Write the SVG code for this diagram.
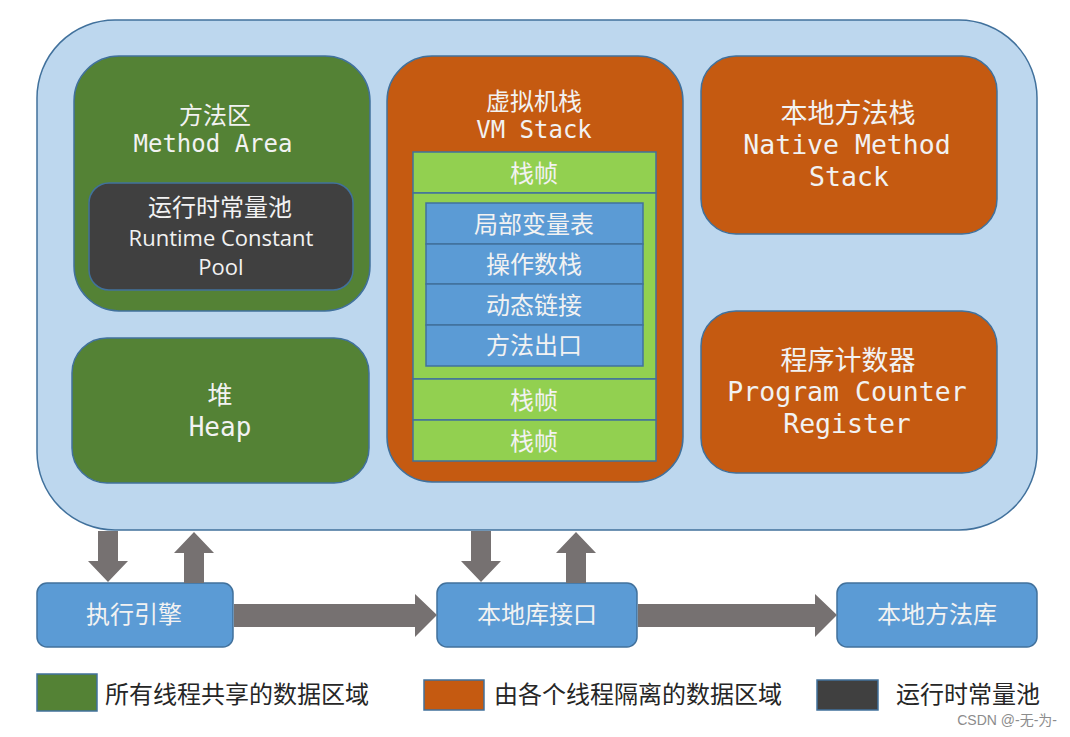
<svg xmlns="http://www.w3.org/2000/svg" width="1070" height="737" viewBox="0 0 1070 737">
<style>
.cn{font-family:"Noto Sans CJK SC","Noto Sans",sans-serif;fill:#F2F2F2;text-anchor:middle}
.mono{font-family:"DejaVu Sans Mono","Liberation Mono",monospace;fill:#F2F2F2;text-anchor:middle}
.sans{font-family:"Open Sans","Noto Sans",sans-serif;fill:#F2F2F2;text-anchor:middle}
.leg{font-family:"Noto Sans CJK SC",sans-serif;fill:#262626;font-size:24px}
.green{fill:#548235;stroke:#41719C;stroke-width:1.5}
.orange{fill:#C55A11;stroke:#41719C;stroke-width:1.5}
.dark{fill:#404040;stroke:#41719C;stroke-width:1.5}
.frame{fill:#92D050;stroke:#41719C;stroke-width:1.5}
.cell{fill:#5B9BD5;stroke:#41719C;stroke-width:1.5}
.box{fill:#5B9BD5;stroke:#41719C;stroke-width:1.5}
.arrow{fill:#767171}
</style>
<rect width="1070" height="737" fill="#FFFFFF"/>
<g id="runtime-data-area">
<rect x="37" y="20" width="1000" height="510" rx="78" ry="78" fill="#BDD7EE" stroke="#41719C" stroke-width="1.5"/>
</g>
<g id="method-area">
<rect class="green" x="74" y="56" width="296" height="255" rx="45" ry="45"/>
<text class="cn" x="215" y="124" font-size="24">方法区</text>
<text class="mono" x="213" y="152" font-size="24">Method Area</text>
</g>
<g id="runtime-constant-pool">
<rect class="dark" x="89" y="183" width="264" height="107" rx="20" ry="20"/>
<text class="cn" x="220" y="216" font-size="24">运行时常量池</text>
<text class="sans" x="221" y="246" font-size="22">Runtime Constant</text>
<text class="sans" x="221" y="275" font-size="22">Pool</text>
</g>
<g id="heap">
<rect class="green" x="72" y="338" width="297" height="145" rx="35" ry="35"/>
<text class="cn" x="220" y="404" font-size="25">堆</text>
<text class="mono" x="220" y="436" font-size="26">Heap</text>
</g>
<g id="vm-stack">
<rect class="orange" x="387" y="56" width="296" height="426" rx="45" ry="45"/>
<text class="cn" x="534" y="110" font-size="24">虚拟机栈</text>
<text class="mono" x="534" y="138" font-size="24">VM Stack</text>
<rect class="frame" x="413" y="152" width="243" height="41"/>
<text class="cn" x="534" y="182" font-size="24">栈帧</text>
<rect class="frame" x="413" y="193" width="243" height="186"/>
<rect class="cell" x="426" y="203" width="217" height="41"/>
<text class="cn" x="534" y="233" font-size="24">局部变量表</text>
<rect class="cell" x="426" y="244" width="217" height="40"/>
<text class="cn" x="534" y="273" font-size="24">操作数栈</text>
<rect class="cell" x="426" y="284" width="217" height="41"/>
<text class="cn" x="534" y="314" font-size="24">动态链接</text>
<rect class="cell" x="426" y="325" width="217" height="41"/>
<text class="cn" x="534" y="354" font-size="24">方法出口</text>
<rect class="frame" x="413" y="379" width="243" height="41"/>
<text class="cn" x="534" y="409" font-size="24">栈帧</text>
<rect class="frame" x="413" y="420" width="243" height="41"/>
<text class="cn" x="534" y="450" font-size="24">栈帧</text>
</g>
<g id="native-method-stack">
<rect class="orange" x="701" y="56" width="296" height="178" rx="35" ry="35"/>
<text class="cn" x="848" y="123" font-size="27">本地方法栈</text>
<text class="mono" x="847" y="154" font-size="26.5">Native Method</text>
<text class="mono" x="849" y="186" font-size="26.5">Stack</text>
</g>
<g id="program-counter-register">
<rect class="orange" x="701" y="311" width="296" height="162" rx="35" ry="35"/>
<text class="cn" x="848" y="370" font-size="27">程序计数器</text>
<text class="mono" x="847" y="401" font-size="26.5">Program Counter</text>
<text class="mono" x="847" y="433" font-size="26.5">Register</text>
</g>
<g id="execution-engine">
<rect class="box" x="37" y="583" width="196" height="64" rx="10" ry="10"/>
<text class="cn" x="134" y="623" font-size="24">执行引擎</text>
</g>
<g id="native-interface">
<rect class="box" x="437" y="583" width="200" height="64" rx="10" ry="10"/>
<text class="cn" x="537" y="623" font-size="24">本地库接口</text>
</g>
<g id="native-library">
<rect class="box" x="837" y="583" width="200" height="64" rx="10" ry="10"/>
<text class="cn" x="937" y="623" font-size="24">本地方法库</text>
</g>
<g id="connectors">
<polygon class="arrow" points="98,531 118,531 118,561 128,561 108,582 88,561 98,561"/>
<polygon class="arrow" points="184,583 204,583 204,553 214,553 194,532 174,553 184,553"/>
<polygon class="arrow" points="471,531 491,531 491,561 501,561 481,582 461,561 471,561"/>
<polygon class="arrow" points="566,583 586,583 586,553 596,553 576,532 556,553 566,553"/>
<polygon class="arrow" points="234,604 415,604 415,594 437,615 415,637 415,627 234,627"/>
<polygon class="arrow" points="638,604 815,604 815,594 837,615 815,637 815,627 638,627"/>
</g>
<g id="legend">
<rect x="37" y="674" width="60" height="37" fill="#548235" stroke="#41719C" stroke-width="1.5"/>
<text class="leg" x="105" y="703">所有线程共享的数据区域</text>
<rect x="424" y="680" width="60" height="30" fill="#C55A11" stroke="#41719C" stroke-width="1.5"/>
<text class="leg" x="494" y="703">由各个线程隔离的数据区域</text>
<rect x="817" y="680" width="61" height="30" fill="#404040" stroke="#41719C" stroke-width="1.5"/>
<text class="leg" x="896" y="703">运行时常量池</text>
</g>
<text x="1057" y="725" font-family="Liberation Sans,Noto Sans CJK SC,sans-serif" font-size="14" fill="#8C8C8C" text-anchor="end">CSDN @-无-为-</text>
</svg>
